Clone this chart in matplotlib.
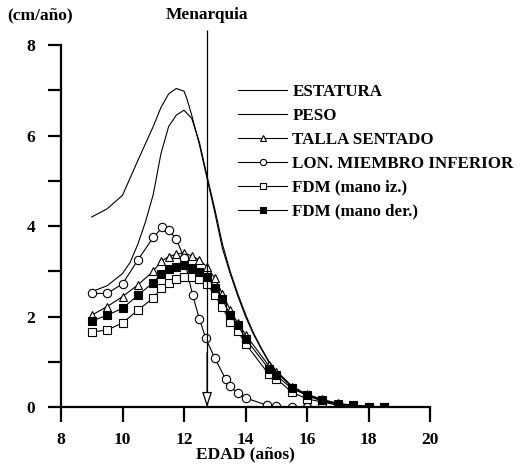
import matplotlib
matplotlib.use('Agg')
import matplotlib.pyplot as plt

plt.rcParams['font.family'] = ['Liberation Serif', 'DejaVu Serif']
plt.rcParams['font.weight'] = 'bold'

# Datos (velocidad de crecimiento, cm/año)
edad_est = [9, 9.5, 10, 10.5, 11, 11.25, 11.5, 11.75, 12, 12.1, 12.25, 12.5, 12.75, 13, 13.25,
            13.5, 13.75, 14, 14.25, 14.5, 14.75, 15, 15.5, 16, 16.5, 17, 17.5, 18, 18.5]
estatura = [4.2, 4.38, 4.68, 5.45, 6.2, 6.62, 6.92, 7.04, 6.98, 6.8, 6.45, 5.8, 5.05, 4.3, 3.5,
            2.95, 2.45, 2.0, 1.62, 1.3, 1.0, 0.78, 0.45, 0.25, 0.13, 0.06, 0.03, 0.01, 0.0]

edad_peso = [9, 9.5, 10, 10.25, 10.5, 10.75, 11, 11.25, 11.5, 11.75, 12, 12.25, 12.5, 12.75, 13,
             13.25, 13.5, 13.75, 14, 14.25, 14.5, 14.75, 15, 15.5, 16, 16.5, 17, 17.5, 18, 18.5]
peso = [2.55, 2.68, 2.95, 3.2, 3.6, 4.1, 4.7, 5.6, 6.2, 6.45, 6.56, 6.38, 5.85, 5.1, 4.38,
        3.6, 3.0, 2.5, 2.05, 1.65, 1.32, 1.02, 0.8, 0.47, 0.27, 0.15, 0.07, 0.03, 0.01, 0.0]

edad_ts = [9, 9.5, 10, 10.5, 11, 11.25, 11.5, 11.75, 12, 12.25, 12.5, 12.75, 13, 13.25,
           13.5, 13.75, 14, 14.75, 15, 15.5, 16, 16.5, 17, 17.5, 18]
talla_sentado = [2.03, 2.22, 2.44, 2.7, 3.0, 3.22, 3.32, 3.38, 3.41, 3.34, 3.25, 3.1, 2.85, 2.5,
                 2.15, 1.85, 1.6, 0.92, 0.78, 0.45, 0.28, 0.17, 0.08, 0.04, 0.01]

edad_lmi = [9, 9.5, 10, 10.5, 11, 11.3, 11.5, 11.75, 12, 12.28, 12.5, 12.7, 13, 13.35,
            13.5, 13.75, 14, 14.7, 15, 15.5, 16, 16.5, 17, 17.5]
lon_miembro = [2.51, 2.51, 2.72, 3.25, 3.75, 3.97, 3.92, 3.71, 3.3, 2.47, 1.95, 1.53, 1.08, 0.62,
               0.46, 0.3, 0.2, 0.04, 0.02, 0.0, 0.0, 0.0, 0.0, 0.0]

edad_fdm = [9, 9.5, 10, 10.5, 11, 11.25, 11.5, 11.75, 12, 12.25, 12.5, 12.75, 13, 13.25,
            13.5, 13.75, 14, 14.75, 15, 15.5, 16, 16.5, 17, 17.5, 18, 18.5]
fdm_iz = [1.66, 1.7, 1.86, 2.14, 2.41, 2.62, 2.73, 2.82, 2.88, 2.88, 2.82, 2.72, 2.47, 2.2,
          1.88, 1.68, 1.4, 0.73, 0.63, 0.33, 0.18, 0.11, 0.04, 0.01, 0.0, 0.0]
fdm_der = [1.9, 2.03, 2.18, 2.47, 2.75, 2.94, 3.05, 3.1, 3.14, 3.07, 2.99, 2.88, 2.64, 2.38,
           2.03, 1.81, 1.51, 0.85, 0.7, 0.41, 0.26, 0.15, 0.07, 0.04, 0.01, 0.0]

menarquia = 12.75

fig = plt.figure(figsize=(5.21, 4.70), dpi=100)
ax = fig.add_axes([0.1171, 0.1340, 0.7083, 0.7702])

lw = 0.8
ax.plot(edad_est, estatura, color='black', lw=lw, label='ESTATURA')
ax.plot(edad_peso, peso, color='black', lw=lw, label='PESO')
ax.plot(edad_ts, talla_sentado, color='black', lw=lw, marker='^', ms=5.5, mfc='white',
        mec='black', mew=0.8, label='TALLA SENTADO')
ax.plot(edad_lmi, lon_miembro, color='black', lw=lw, marker='o', ms=6, mfc='white',
        mec='black', mew=0.8, label='LON. MIEMBRO INFERIOR')
ax.plot(edad_fdm, fdm_iz, color='black', lw=lw, marker='s', ms=6, mfc='white',
        mec='black', mew=0.8, label='FDM (mano iz.)')
ax.plot(edad_fdm, fdm_der, color='black', lw=lw, marker='s', ms=6, mfc='black',
        mec='black', mew=0.8, label='FDM (mano der.)')

# Linea de menarquia con flecha
ax.vlines(menarquia, 0, 8.33, color='black', lw=0.9, clip_on=False)
ax.annotate('', xy=(menarquia, 0), xytext=(menarquia, 1.2),
            arrowprops=dict(arrowstyle='-|>,head_length=0.9,head_width=0.3',
                            fc='white', ec='black', lw=0.9, shrinkA=0, shrinkB=0),
            annotation_clip=False)
ax.text(menarquia, 8.66, 'Menarquia', ha='center', va='center', fontsize=12.5,
        fontweight='bold', clip_on=False)

ax.set_xlim(8, 20)
ax.set_ylim(0, 8)
ax.set_xticks([8, 10, 12, 14, 16, 18, 20])
ax.set_yticks([0, 2, 4, 6, 8])
ax.set_yticks([1, 3, 5, 7], minor=True)
ax.tick_params(axis='both', which='both', direction='out', width=1.6, colors='black',
               labelsize=12.5)
ax.tick_params(axis='y', which='both', length=9.5, pad=9)
ax.tick_params(axis='x', which='major', length=11, pad=7)
for lab in ax.get_xticklabels() + ax.get_yticklabels():
    lab.set_fontweight('bold')

for s in ['top', 'right']:
    ax.spines[s].set_visible(False)
for s in ['left', 'bottom']:
    ax.spines[s].set_linewidth(1.6)

ax.set_xlabel('EDAD (años)', fontsize=12.5, fontweight='bold', labelpad=-1)
fig.text(40 / 521, 1 - 15 / 470, '(cm/año)', ha='center', va='center', fontsize=12.5,
         fontweight='bold')

leg = ax.legend(loc='upper left', bbox_to_anchor=(238 / 521, 1 - 84 / 470),
                bbox_transform=fig.transFigure, frameon=False, fontsize=12.2,
                handlelength=2.9, handletextpad=0.3, labelspacing=0.47, borderpad=0,
                borderaxespad=0, markerscale=0.75)
for t in leg.get_texts():
    t.set_fontweight('bold')

fig.savefig('out.png', dpi=100)
